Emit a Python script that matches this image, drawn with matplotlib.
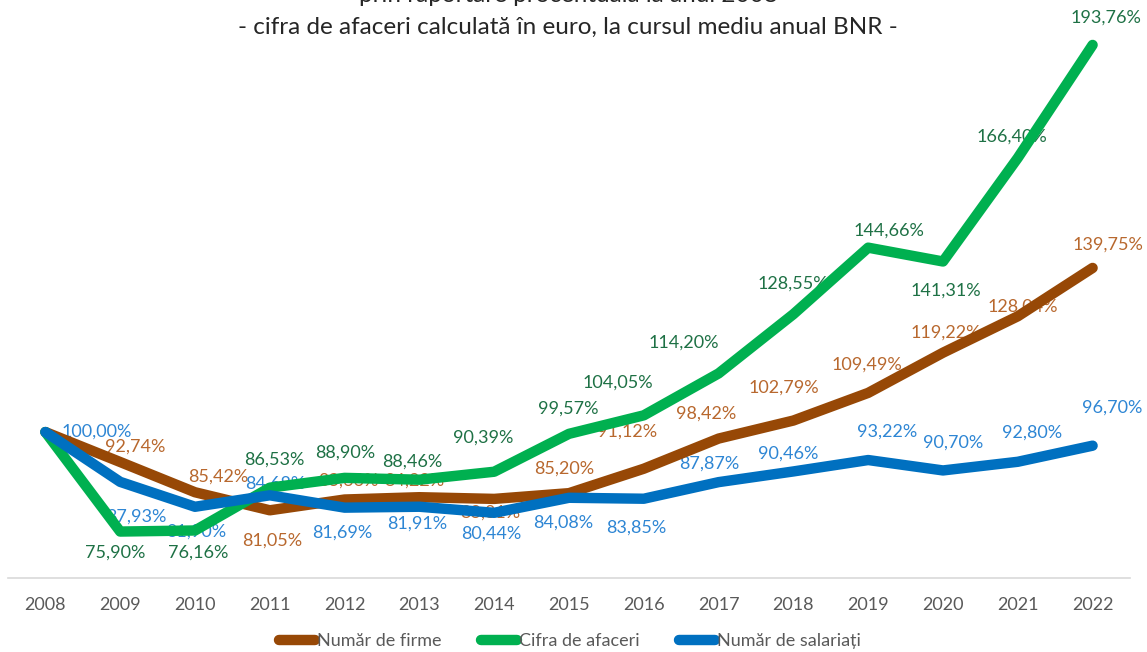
import matplotlib
matplotlib.use("Agg")
import matplotlib.pyplot as plt

# ============================================================
# Data (indici, 2008 = 100%)
# ============================================================
YEARS = [str(y) for y in range(2008, 2023)]

FIRME = [100.00, 92.74, 85.42, 81.05, 83.66, 84.22, 83.81, 85.20,
         91.12, 98.42, 102.79, 109.49, 119.22, 128.04, 139.75]
CIFRA = [100.00, 75.90, 76.16, 86.53, 88.90, 88.46, 90.39, 99.57,
         104.05, 114.20, 128.55, 144.66, 141.31, 166.40, 193.76]
SALARIATI = [100.00, 87.93, 81.90, 84.68, 81.69, 81.91, 80.44, 84.08,
             83.85, 87.87, 90.46, 93.22, 90.70, 92.80, 96.70]

SERIES_NAMES = ["Număr de firme", "Cifra de afaceri", "Număr de salariați"]

TITLE_1 = "prin raportare procentuală la anul 2008"
TITLE_2 = "- cifra de afaceri calculată în euro, la cursul mediu anual BNR -"

# ============================================================
# Styles
# ============================================================
LINE_COLORS = ["#974806", "#00B050", "#0070C0"]
LABEL_COLORS = ["#B8682E", "#1E7145", "#2E86D4"]
GRAY = "#595959"

# label offsets in pixels (dx, dy) per point, None = no label
OFF_FIRME = [None, (15, 15), (23, 16), (2, -30), (4, 19), (-5, 17), (-4, -14),
             (-5, 25), (-17, 37), (-12, 25), (-10, 33), (-1, 28), (3, 20),
             (5, 10), (15, 23)]
OFF_CIFRA = [None, (-5, -21), (3, -22), (5, 28), (1, 25), (-7, 18), (-11, 34),
             (-1, 25), (-26, 33), (-35, 31), (-1, 31), (21, 17), (3, -29),
             (-6, 21), (13, 27)]
OFF_SAL = [(51, 0), (16, -35), (1, -25), (5, 12), (-2, -25), (-2, -17),
           (-3, -21), (-6, -25), (-8, -29), (-9, 19), (-5, 18), (19, 28),
           (10, 28), (14, 29), (20, 38)]

plt.rcParams["font.family"] = ["Lato", "DejaVu Sans"]

fig = plt.figure(figsize=(11.47, 6.52), dpi=100)
W, H = 1147, 652
ax = fig.add_axes([8 / W, (H - 578) / H, (1130 - 8) / W, (578 - 20) / H])

x = list(range(len(YEARS)))
all_series = [FIRME, CIFRA, SALARIATI]
all_offsets = [OFF_FIRME, OFF_CIFRA, OFF_SAL]

for vals, name, lc in zip(all_series, SERIES_NAMES, LINE_COLORS):
    ax.plot(x, vals, color=lc, linewidth=7.5, solid_capstyle="round",
            solid_joinstyle="round", label=name, zorder=3)

for vals, offs, tc in zip(all_series, all_offsets, LABEL_COLORS):
    for xi, v, off in zip(x, vals, offs):
        if off is None:
            continue
        ax.annotate(f"{v:.2f}%".replace(".", ","), (xi, v), xytext=off,
                    textcoords="offset pixels", ha="center", va="center",
                    fontsize=13, color=tc, zorder=2)

ax.set_xlim(-0.5, len(YEARS) - 0.5)
ax.set_ylim(64.65, 199.8)
ax.set_xticks(x)
ax.set_xticklabels(YEARS)
ax.set_yticks([])
ax.tick_params(axis="x", length=0, pad=14, labelsize=13, labelcolor=GRAY)
for s in ["top", "right", "left"]:
    ax.spines[s].set_visible(False)
ax.spines["bottom"].set_color("#D9D9D9")
ax.spines["bottom"].set_linewidth(1.2)

# first title line is partly cut at the top, as in the source image
fig.text(568 / W, 1 + 4 / H, TITLE_1, ha="center", va="center",
         fontsize=17.5, color="#262626")
fig.text(568 / W, 1 - 27 / H, TITLE_2, ha="center", va="center",
         fontsize=17.5, color="#262626")

leg = fig.legend(loc="center", bbox_to_anchor=(570 / W, 11 / H), ncol=3,
                 frameon=False, fontsize=13, handlelength=2.0,
                 handletextpad=0.1, columnspacing=2.2)
for t in leg.get_texts():
    t.set_color(GRAY)

fig.savefig("out.png", dpi=100)
